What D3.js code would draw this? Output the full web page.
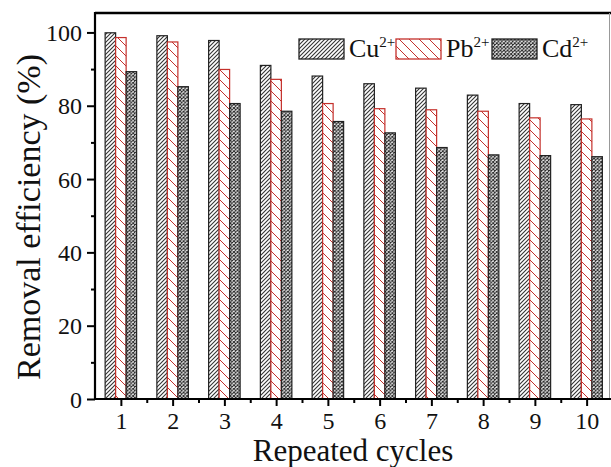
<!DOCTYPE html>
<html><head><meta charset="utf-8">
<script src="https://cdn.jsdelivr.net/npm/d3@7"></script>
<style>
html,body{margin:0;padding:0;background:#fff;}
svg{display:block;}
</style></head>
<body>
<svg id="c" width="611" height="467"></svg>
<script>
const cycles = [1,2,3,4,5,6,7,8,9,10];
const cu = [99.9, 99.1, 97.8, 91.0, 88.1, 86.0, 84.8, 82.9, 80.6, 80.3];
const pb = [98.6, 97.4, 89.9, 87.2, 80.6, 79.2, 78.9, 78.5, 76.7, 76.4];
const cd = [89.3, 85.2, 80.6, 78.5, 75.7, 72.6, 68.6, 66.6, 66.4, 66.1];
const seriesNames = ["Cu", "Pb", "Cd"];
const yTicks = [0,20,40,60,80,100];
const yMinor = [10,30,50,70,90];
const xMinor = [1.5,2.5,3.5,4.5,5.5,6.5,7.5,8.5,9.5];

(function(){
const svg = d3.select("#c");
const pL = 95, pR = 612.5, pT = 13, pB = 399;
const x = d3.scaleLinear().domain([0.5,10.5]).range([pL,pR]);
const y = d3.scaleLinear().domain([0,105.3]).range([pB,pT]);
const red = "#c4302b";
const FF = "Liberation Serif";

const defs = svg.append("defs");
const p1 = defs.append("pattern").attr("id","pCu").attr("patternUnits","userSpaceOnUse").attr("width",4).attr("height",4);
p1.append("rect").attr("width",4).attr("height",4).attr("fill","#fff");
p1.append("path").attr("d","M-1,1 L1,-1 M0,4 L4,0 M3,5 L5,3").attr("stroke","#333").attr("stroke-width",1.1);
const p2 = defs.append("pattern").attr("id","pPb").attr("patternUnits","userSpaceOnUse").attr("width",10).attr("height",10);
p2.append("rect").attr("width",10).attr("height",10).attr("fill","#fff");
p2.append("path").attr("d","M-5,5 L5,15 M0,0 L10,10 M5,-5 L15,5").attr("stroke",red).attr("stroke-width",1);
const p3 = defs.append("pattern").attr("id","pCd").attr("patternUnits","userSpaceOnUse").attr("width",3.6).attr("height",3.6);
p3.append("rect").attr("width",3.6).attr("height",3.6).attr("fill","#fff");
p3.append("path").attr("d","M0,0 L3.6,3.6 M3.6,0 L0,3.6").attr("stroke","#222").attr("stroke-width",1);

const series = [
  {name:"Cu", vals:cu, fill:"url(#pCu)", stroke:"#222"},
  {name:"Pb", vals:pb, fill:"url(#pPb)", stroke:red},
  {name:"Cd", vals:cd, fill:"url(#pCd)", stroke:"#222"}
];
const bw = 10.5;
const offs = [-1.5*bw, -0.5*bw, 0.5*bw];

series.forEach((s,si)=>{
  svg.append("g").selectAll("rect").data(cycles).join("rect")
    .attr("x", (c)=> x(c)+offs[si])
    .attr("y", (c,i)=> y(s.vals[i]))
    .attr("width", bw)
    .attr("height", (c,i)=> y(0)-y(s.vals[i]))
    .attr("fill", s.fill)
    .attr("stroke", s.stroke)
    .attr("stroke-width", 1.2);
});

svg.append("line").attr("x1",pL).attr("x2",611).attr("y1",pT).attr("y2",pT).attr("stroke","#000").attr("stroke-width",2.5);
svg.append("line").attr("x1",609.5).attr("x2",609.5).attr("y1",pT).attr("y2",pB).attr("stroke","#999").attr("stroke-width",1);

const yAxis = d3.axisLeft(y).tickValues(yTicks).tickSize(8).tickPadding(5).tickFormat(d3.format("d"));
const gy = svg.append("g").attr("transform",`translate(${pL},0)`).call(yAxis).attr("font-family",FF);
gy.select(".domain").attr("stroke","#000").attr("stroke-width",2.2).attr("d",`M0,${pB+1}V${pT-1}`);
gy.selectAll(".tick line").attr("stroke","#000").attr("stroke-width",2);
gy.selectAll(".tick text").attr("font-size",24).attr("font-family",FF).attr("fill","#111").attr("dy","0.34em");
const yMin = d3.axisLeft(y).tickValues(yMinor).tickSize(4).tickFormat("");
const gym = svg.append("g").attr("transform",`translate(${pL},0)`).call(yMin);
gym.select(".domain").remove();
gym.selectAll(".tick line").attr("stroke","#000").attr("stroke-width",2);

const xAxis = d3.axisBottom(x).tickValues(cycles).tickSize(7).tickPadding(6).tickFormat(d3.format("d"));
const gx = svg.append("g").attr("transform",`translate(0,${pB})`).call(xAxis).attr("font-family",FF);
gx.select(".domain").attr("stroke","#000").attr("stroke-width",2.2).attr("d",`M${pL-1},0H611`);
gx.selectAll(".tick line").attr("stroke","#000").attr("stroke-width",2);
gx.selectAll(".tick text").attr("font-size",24).attr("font-family",FF).attr("fill","#111");
const xMin = d3.axisBottom(x).tickValues(xMinor).tickSize(4).tickFormat("");
const gxm = svg.append("g").attr("transform",`translate(0,${pB})`).call(xMin);
gxm.select(".domain").remove();
gxm.selectAll(".tick line").attr("stroke","#000").attr("stroke-width",2);

svg.append("text").attr("x",353).attr("y",461).attr("text-anchor","middle").attr("font-family",FF).attr("font-size",31).attr("fill","#111").text("Repeated cycles");
svg.append("text").attr("transform","translate(40,217) rotate(-90)").attr("text-anchor","middle").attr("font-family",FF).attr("font-size",34).attr("fill","#111").text("Removal efficiency (%)");

const legX = [299, 396, 492];
const lg = svg.append("g");
series.forEach((s,i)=>{
  lg.append("rect").attr("x",legX[i]).attr("y",39).attr("width",45).attr("height",20)
    .attr("fill",s.fill).attr("stroke",s.stroke).attr("stroke-width",1.3);
  const t = lg.append("text").attr("x",legX[i]+50).attr("y",57).attr("font-family",FF).attr("font-size",26).attr("fill","#111");
  t.append("tspan").text(seriesNames[i]);
  t.append("tspan").attr("font-size",15).attr("dy",-10).text("2+");
});
})();
</script>
</body></html>
